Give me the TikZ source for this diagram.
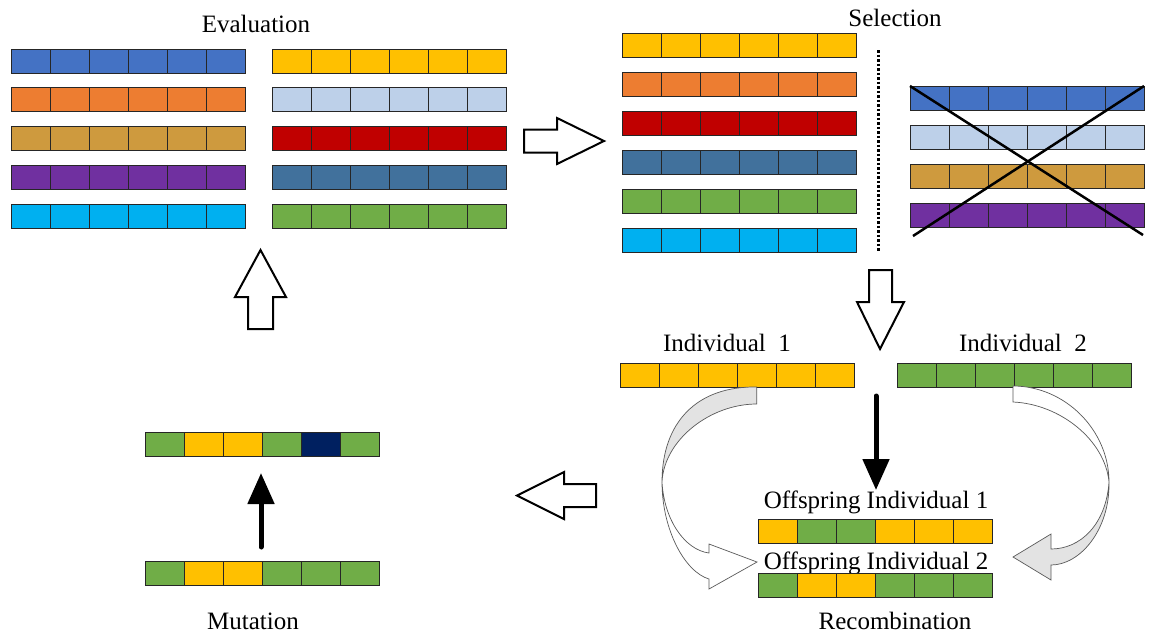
\documentclass[tikz,border=0pt]{standalone}
\usepackage{fontspec}
\setmainfont{Liberation Serif}
\usetikzlibrary{arrows.meta}

% gene colours
\definecolor{gblue}{RGB}{68,114,196}
\definecolor{gorange}{RGB}{237,125,49}
\definecolor{ggold}{RGB}{206,154,62}
\definecolor{gpurple}{RGB}{112,48,160}
\definecolor{gcyan}{RGB}{0,176,240}
\definecolor{gyellow}{RGB}{255,192,0}
\definecolor{glight}{RGB}{189,208,233}
\definecolor{gred}{RGB}{192,0,0}
\definecolor{gsteel}{RGB}{65,113,156}
\definecolor{ggreen}{RGB}{112,173,71}
\definecolor{gnavy}{RGB}{0,32,96}
\definecolor{bandgrey}{RGB}{227,227,227}

\tikzset{
  gene/.style={draw=black!85, line width=0.8pt, minimum width=39pt,
    minimum height=24pt, inner sep=0pt, outer sep=0pt, anchor=north west},
  title/.style={font=\fontsize{25}{30}\selectfont, inner sep=0pt, anchor=base},
  blockarrow/.style={draw=black, line width=2pt, fill=white, line join=miter},
  bandarrow/.style={draw=black!65, line width=0.7pt, line join=miter},
  solidarrow/.style={line width=5pt, line cap=round,
    -{Triangle[length=31pt,width=26pt]}},
  crossline/.style={line width=2.5pt},
  cutline/.style={line width=3pt, dash pattern=on 2.5pt off 2pt},
}

% one chromosome: six genes, named #1-0 ... #1-5, top-left corner at (#2,#3)
\newcommand{\chromrow}[4]{%
  \foreach \c [count=\i from 0] in {#4} {
    \node[gene, fill=\c] (#1-\i) at ({#2+39*\i},{#3}) {};
  }%
}

\begin{document}
\begin{tikzpicture}[x=1pt,y=-1pt]
\useasboundingbox (0,0) rectangle (1153,633);

% ---------------- Evaluation ----------------
\node[title] (evaltitle) at (256,32) {Evaluation};
\chromrow{ea}{11}{49}{gblue,gblue,gblue,gblue,gblue,gblue}
\chromrow{eb}{11}{87.75}{gorange,gorange,gorange,gorange,gorange,gorange}
\chromrow{ec}{11}{126.5}{ggold,ggold,ggold,ggold,ggold,ggold}
\chromrow{ed}{11}{165.25}{gpurple,gpurple,gpurple,gpurple,gpurple,gpurple}
\chromrow{ee}{11}{204}{gcyan,gcyan,gcyan,gcyan,gcyan,gcyan}
\chromrow{ef}{272}{49}{gyellow,gyellow,gyellow,gyellow,gyellow,gyellow}
\chromrow{eg}{272}{87.75}{glight,glight,glight,glight,glight,glight}
\chromrow{eh}{272}{126.5}{gred,gred,gred,gred,gred,gred}
\chromrow{ei}{272}{165.25}{gsteel,gsteel,gsteel,gsteel,gsteel,gsteel}
\chromrow{ej}{272}{204}{ggreen,ggreen,ggreen,ggreen,ggreen,ggreen}

% ---------------- Selection ----------------
\node[title] (seltitle) at (895,26) {Selection};
\chromrow{sa}{622}{33}{gyellow,gyellow,gyellow,gyellow,gyellow,gyellow}
\chromrow{sb}{622}{72}{gorange,gorange,gorange,gorange,gorange,gorange}
\chromrow{sc}{622}{111}{gred,gred,gred,gred,gred,gred}
\chromrow{sd}{622}{150}{gsteel,gsteel,gsteel,gsteel,gsteel,gsteel}
\chromrow{se}{622}{189}{ggreen,ggreen,ggreen,ggreen,ggreen,ggreen}
\chromrow{sf}{622}{228}{gcyan,gcyan,gcyan,gcyan,gcyan,gcyan}

\coordinate (cuttop) at (878,50);
\coordinate (cutbot) at (878,252);
\draw[cutline] (cuttop) -- (cutbot);

\chromrow{ra}{910}{86}{gblue,gblue,gblue,gblue,gblue,gblue}
\chromrow{rb}{910}{125}{glight,glight,glight,glight,glight,glight}
\chromrow{rc}{910}{164}{ggold,ggold,ggold,ggold,ggold,ggold}
\chromrow{rd}{910}{203}{gpurple,gpurple,gpurple,gpurple,gpurple,gpurple}
\draw[crossline] (ra-0.north west) -- (1143,235);
\draw[crossline] (913,236) -- (ra-5.north east);

% ---------------- Recombination ----------------
\node[title] (ind1) at (727,351) {Individual\ \ 1};
\node[title] (ind2) at (1023,351) {Individual\ \ 2};
\chromrow{pa}{620}{363}{gyellow,gyellow,gyellow,gyellow,gyellow,gyellow}
\chromrow{pb}{897}{363}{ggreen,ggreen,ggreen,ggreen,ggreen,ggreen}

\coordinate (xstart) at (876,396);
\coordinate (xend) at (876,490);
\draw[solidarrow] (xstart) -- (xend);

\node[title] (off1) at (876,508) {Offspring Individual 1};
\chromrow{oa}{758}{519}{gyellow,ggreen,ggreen,gyellow,gyellow,gyellow}
\node[title] (off2) at (876,569) {Offspring Individual 2};
\chromrow{ob}{758}{573}{ggreen,gyellow,gyellow,ggreen,ggreen,ggreen}
\node[title] (rectitle) at (895,629) {Recombination};

% curved transfer arrow from the first parent
\filldraw[bandarrow, fill=bandgrey]
  (756.7,387) .. controls (697,386) and (662,422) .. (662,482)
  .. controls (664,440) and (710,404) .. (756.7,404) -- cycle;
\filldraw[bandarrow, fill=white]
  (662,482) .. controls (662,530) and (685,572) .. (709,579)
  -- (709,589) -- (757,562) -- (709,544) -- (709,553)
  .. controls (685,550) and (664,520) .. (662,482) -- cycle;

% curved transfer arrow from the second parent
\filldraw[bandarrow, fill=white]
  (1013,386) .. controls (1065,386) and (1109,430) .. (1109,482)
  .. controls (1105,440) and (1060,404) .. (1013,402) -- cycle;
\filldraw[bandarrow, fill=bandgrey]
  (1109,482) .. controls (1110,530) and (1080,565) .. (1051,565)
  -- (1051,580) -- (1013,557) -- (1051,534) -- (1051,549)
  .. controls (1080,549) and (1106,525) .. (1109,482) -- cycle;

% ---------------- Mutation ----------------
\chromrow{ma}{145}{432}{ggreen,gyellow,gyellow,ggreen,gnavy,ggreen}
\chromrow{mb}{145}{561}{ggreen,gyellow,gyellow,ggreen,ggreen,ggreen}
\coordinate (mstart) at (261,547);
\coordinate (mend) at (261,473);
\draw[solidarrow] (mstart) -- (mend);
\node[title] (muttitle) at (253,629) {Mutation};

% ---------------- cycle arrows ----------------
% Evaluation -> Selection
\draw[blockarrow] (524,129.5) -- (557,129.5) -- (557,118) -- (604,141)
  -- (557,164) -- (557,152.5) -- (524,152.5) -- cycle;
% Selection -> Recombination
\draw[blockarrow] (869,270) -- (892,270) -- (892,302) -- (904,302) -- (880,349)
  -- (857,302) -- (869,302) -- cycle;
% Recombination -> Mutation
\draw[blockarrow] (596,484) -- (564,484) -- (564,472) -- (517,495.5)
  -- (564,519) -- (564,507) -- (596,507) -- cycle;
% Mutation -> Evaluation
\draw[blockarrow] (248,329) -- (248,297) -- (235,297) -- (260.5,250)
  -- (286,297) -- (273,297) -- (273,329) -- cycle;

\end{tikzpicture}
\end{document}
